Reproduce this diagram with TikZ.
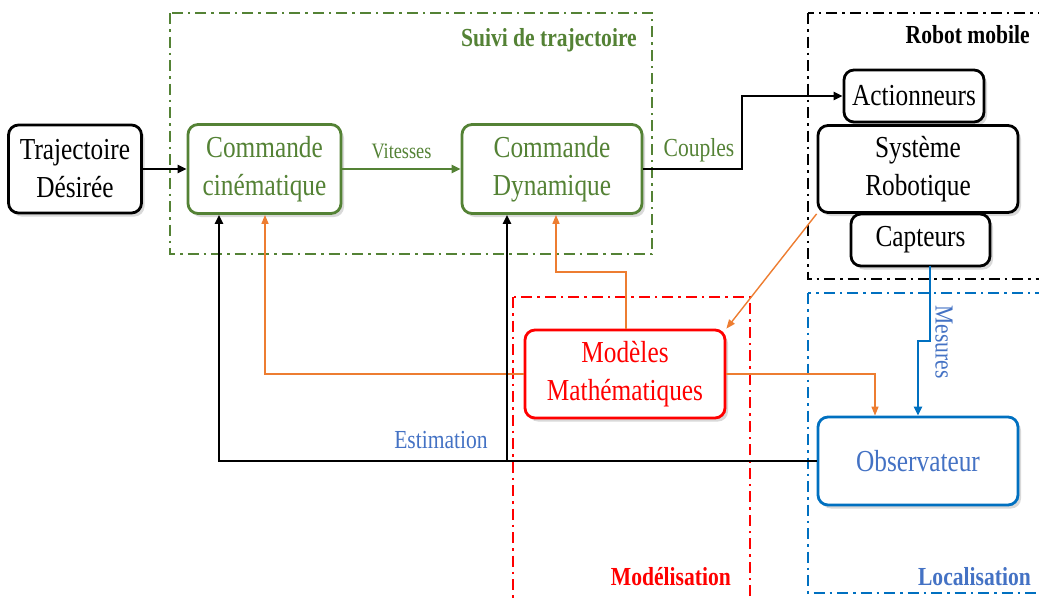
\documentclass[tikz,border=0pt]{standalone}
\usepackage{fontspec}
\setmainfont[FakeStretch=0.83]{Liberation Serif}
\usetikzlibrary{arrows.meta,shadows,calc}
\definecolor{cgreen}{HTML}{548235}
\definecolor{cred}{HTML}{FF0000}
\definecolor{cblue}{HTML}{0070C0}
\definecolor{ctblue}{HTML}{4472C4}
\definecolor{corange}{HTML}{ED7D31}
\tikzset{
  box/.style={draw, rounded corners=10pt, line width=2.8pt, fill=white, align=center,
    font=\fontsize{30.5}{38}\selectfont, inner sep=0pt,
    drop shadow={shadow xshift=3pt, shadow yshift=-3.5pt, opacity=0.3, fill=gray}},
  group/.style={line width=2.4pt, dash pattern=on 11pt off 5pt on 2.5pt off 5pt},
  title/.style={font=\fontsize{26}{30}\selectfont\bfseries, anchor=east, inner sep=0pt},
  lab/.style={font=\fontsize{26}{30}\selectfont, inner sep=0pt},
  blk/.style={line width=2.8pt, -{Triangle[length=9pt,width=8pt]}},
  org/.style={line width=1.4pt, corange, -{Triangle[length=9pt,width=7pt]}},
}
\begin{document}
\begin{tikzpicture}[x=1pt,y=-1pt]
\useasboundingbox (0,0) rectangle (1039,598);
\clip (0,0) rectangle (1039,598);
% groups
\draw[group, cgreen] (170,13) rectangle (652,254);
\draw[group, black] (808,13) rectangle (1050,279);
\draw[group, cred] (513,297) rectangle (750,610);
\draw[group, cblue] (808,293) rectangle (1050,593);
\node[title, text=cgreen] (tsuivi) at (637,40) {Suivi de trajectoire};
\node[title, text=black] (trobot) at (1030,35) {Robot mobile};
\node[title, text=cred] (tmod) at (731,577) {Modélisation};
\node[title, text=ctblue] (tloc) at (1031,577) {Localisation};
% nodes
\node[box, minimum width=133pt, minimum height=88pt] (traj) at (75,169) {Trajectoire\\Désirée};
\node[box, draw=cgreen, text=cgreen, minimum width=153pt, minimum height=89pt] (cin) at (264.5,169) {Commande\\cinématique};
\node[box, draw=cgreen, text=cgreen, minimum width=180pt, minimum height=89pt] (dyn) at (552,169) {Commande\\Dynamique};
\node[box, minimum width=140pt, minimum height=52pt] (act) at (914,96) {Actionneurs};
\node[box, minimum width=200pt, minimum height=87pt] (sys) at (918,169) {Système\\Robotique};
\node[box, minimum width=139pt, minimum height=52pt] (cap) at (920.5,240) {Capteurs};
\node[box, draw=cred, text=cred, minimum width=200pt, minimum height=88pt] (mod) at (625,374) {Modèles\\Mathématiques};
\node[box, draw=cblue, text=ctblue, minimum width=200pt, minimum height=88pt] (obs) at (918,461) {Observateur};
% coordinates
\coordinate (c1) at (742,169);
\coordinate (c2) at (626,272);
\coordinate (c3) at (556,272);
\coordinate (c4) at (265,374);
\coordinate (c5) at (875,374);
\coordinate (c6) at (219,461);
\coordinate (c7) at (507,461);
\coordinate (m0) at (930,266);
\coordinate (m1) at (930,341);
\coordinate (m2) at (918,341);
% connectors
\draw[blk] (traj.east) -- (cin.west);
\draw[line width=2.6pt, cgreen, -{Triangle[length=9pt,width=8pt]}] (cin.east) -- node[lab, above=9pt, font=\fontsize{22}{26}\selectfont] (lv) {Vitesses} (dyn.west);
\draw[blk] (dyn.east) -- (c1) |- (act.west);
\node[lab, text=cgreen] (lc) at (699,150) {Couples};
\draw[org] (sys.south west) -- (mod.north east);
\draw[org] (c2 |- mod.north) -- (c2) -- (c3) -- (c3 |- dyn.south);
\draw[org] (mod.west) -- (c4) -- (c4 |- cin.south);
\draw[org] (mod.east) -- (c5) -- (c5 |- obs.north);
\draw[blk] (obs.west) -- (c6) -- (c6 |- cin.south);
\draw[blk] (c7) -- (c7 |- dyn.south);
\draw[line width=2.6pt, cblue, -{Triangle[length=9pt,width=8pt]}] (m0) -- (m1) -- (m2) -- (m2 |- obs.north);
\node[lab, text=ctblue] (le) at (441,440) {Estimation};
\node[lab, text=ctblue, rotate=-90] (lm) at (944,342) {Mesures};
\end{tikzpicture}
\end{document}
